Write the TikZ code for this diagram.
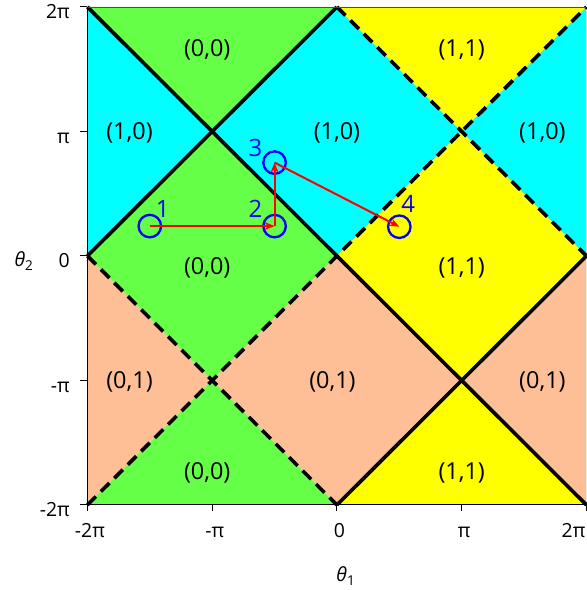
\documentclass[tikz,border=0pt]{standalone}
\usepackage{fontspec}
\setmainfont{Open Sans}
\usepackage{tikz}
\usetikzlibrary{arrows.meta}
\definecolor{phasegreen}{HTML}{66FF47}
\definecolor{phasecyan}{HTML}{00FFFF}
\definecolor{phaseyellow}{HTML}{FFFF00}
\definecolor{phasepeach}{HTML}{FFBF96}
\definecolor{spotblue}{HTML}{0000FF}
\definecolor{hopred}{HTML}{FF0000}

\begin{document}
\begin{tikzpicture}[x=124.75bp, y=124.5bp,
    solidedge/.style={line width=3.6bp},
    dashedge/.style={line width=3.6bp, dash pattern=on 12bp off 7bp},
    regionlbl/.style={font=\fontsize{23.5}{28}\selectfont, inner sep=0pt},
    ticklbl/.style={font=\fontsize{19.5}{23}\selectfont, inner sep=0pt},
    spot/.style={circle, draw=spotblue, line width=2.3bp, minimum size=22.5bp, inner sep=0pt},
    numlbl/.style={text=spotblue, font=\fontsize{24}{28}\selectfont, inner sep=0pt, anchor=base},
    hop/.style={draw=hopred, line width=2bp, -{Stealth[length=10bp, width=8bp]}}]
  \useasboundingbox (-2.701,-2.683) rectangle (2.004,2.056);
  % coloured cells
  \foreach \col/\pa/\pb/\pc/\pd in
      {phasegreen/{-2,0}/{-1,1}/{0,0}/{-1,-1}, phasecyan/{-1,1}/{0,2}/{1,1}/{0,0},
       phaseyellow/{0,0}/{1,1}/{2,0}/{1,-1}, phasepeach/{-1,-1}/{0,0}/{1,-1}/{0,-2},
       phasegreen/{-2,2}/{0,2}/{-1,1}/{-1,1}, phaseyellow/{0,2}/{2,2}/{1,1}/{1,1},
       phasecyan/{-2,2}/{-2,0}/{-1,1}/{-1,1}, phasepeach/{-2,0}/{-2,-2}/{-1,-1}/{-1,-1},
       phasecyan/{2,2}/{2,0}/{1,1}/{1,1}, phasepeach/{2,0}/{2,-2}/{1,-1}/{1,-1},
       phasegreen/{-2,-2}/{0,-2}/{-1,-1}/{-1,-1}, phaseyellow/{0,-2}/{2,-2}/{1,-1}/{1,-1}} {
    \fill[\col] (\pa) -- (\pb) -- (\pc) -- (\pd) -- cycle;
  }
  % boundaries
  \draw[solidedge] (-2,2) -- (2,-2);
  \draw[solidedge] (-2,0) -- (0,2);
  \draw[solidedge] (0,-2) -- (2,0);
  \draw[dashedge] (-2,-2) -- (2,2);
  \draw[dashedge] (-2,0) -- (0,-2);
  \draw[dashedge] (0,2) -- (2,0);
  % cell labels
  \foreach \lx/\ly/\txt in
      {-1.04/1.655/{(0,0)}, -1.04/-0.096/{(0,0)}, -1.04/-1.743/{(0,0)},
       -1.663/0.988/{(1,0)}, 0/0.988/{(1,0)}, 1.647/0.988/{(1,0)},
       1/1.655/{(1,1)}, 1/-0.096/{(1,1)}, 1/-1.743/{(1,1)},
       -1.663/-1.01/{(0,1)}, -0.036/-1.01/{(0,1)}, 1.647/-1.01/{(0,1)}} {
    \node[regionlbl] at (\lx,\ly) {\txt};
  }
  % axes
  \draw[line width=0.9bp, gray!60!black] (-2,2) -- (2,2);
  \draw[line width=1bp] (-2,2) -- (-2,-2) -- (2,-2);
  \foreach \v/\t in {2/2π, 1/π, 0/0, -1/-π, -2/-2π} {
    \draw[line width=1bp] (-2,\v) -- ++(-7bp,0);
    \node[ticklbl, anchor=base east] at (-2.14,\v-0.095) {\t};
    \draw[line width=1bp] (\v,-2) -- ++(0,-6bp);
  }
  \foreach \v/\t in {1/π, 0/0, -1/-π, -2/-2π} {
    \node[ticklbl, anchor=base] at (\v+0.02,-2.265) {\t};
  }
  \node[ticklbl, anchor=base west] at (1.80,-2.265) {2π};
  \node[ticklbl, anchor=base] (th2) at (-2.509,-0.088) {\textit{θ}\textsubscript{2}};
  \node[ticklbl, anchor=base] (th1) at (0.072,-2.618) {\textit{θ}\textsubscript{1}};
  % visited points
  \foreach \n/\px/\py/\dx/\dy in
      {1/-1.5/0.24/13/9, 2/-0.5/0.24/-19/9, 3/-0.5/0.75/-19/6, 4/0.5/0.235/9/14} {
    \node[spot] (c\n) at (\px,\py) {};
    \node[numlbl] at ([shift={(\dx bp,\dy bp)}]c\n.center) {\n};
  }
  \draw[hop] (c1.center) -- (c2.center);
  \draw[hop] (c2.center) -- (c3.center);
  \draw[hop] (c3.center) -- (c4.center);
\end{tikzpicture}
\end{document}
